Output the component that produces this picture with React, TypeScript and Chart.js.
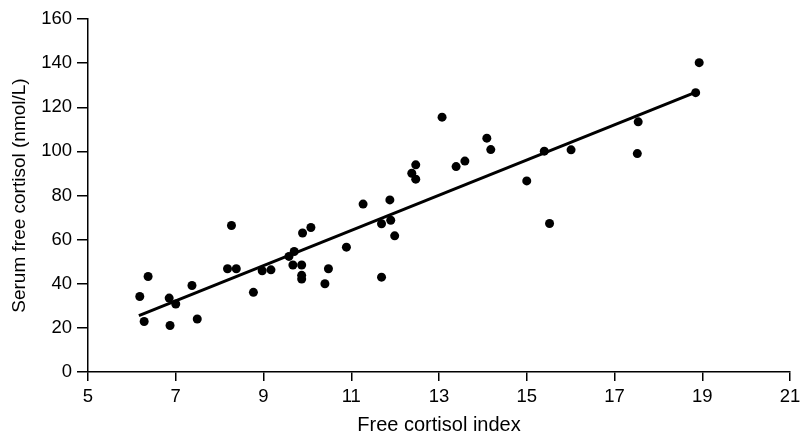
import React, { useEffect, useRef } from "react";
import { Chart, registerables } from "chart.js";

Chart.register(...registerables);

const xTicks = [5, 7, 9, 11, 13, 15, 17, 19, 21];
const yTicks = [0, 20, 40, 60, 80, 100, 120, 140, 160];

const pointX = [
  6.18, 6.37, 6.28, 6.85, 7.0, 6.87, 7.37, 7.49, 8.18, 8.38, 8.77, 8.97, 9.17, 9.67,
  9.87, 9.87, 9.87, 9.58, 10.4, 10.48, 8.27, 9.89, 10.08, 9.7, 10.89, 11.27, 11.69,
  11.9, 11.88, 11.99, 11.69, 12.47, 12.38, 12.47, 13.39, 13.07, 14.09, 14.18, 15.4,
  16.01, 15.0, 13.59, 18.93, 18.85, 17.54, 17.52, 15.52,
];
const pointY = [
  34.2, 43.3, 22.9, 33.5, 30.8, 21.1, 39.2, 24.0, 46.8, 46.8, 36.1, 45.9, 46.3, 48.5,
  48.5, 43.8, 42.1, 52.4, 40.0, 46.8, 66.4, 63.0, 65.5, 54.6, 56.6, 76.1, 67.2,
  68.8, 78.0, 61.7, 43.0, 93.9, 90.1, 87.4, 93.1, 115.5, 106.0, 100.8, 100.1,
  100.7, 86.6, 95.6, 140.2, 126.6, 113.4, 99.0, 67.3,
];

const fitX = [6.16, 18.8];
const fitY = [25.6, 126.4];

const FONT = "'Liberation Sans', Arial, Helvetica, sans-serif";

export default function App() {
  const ref = useRef<HTMLCanvasElement | null>(null);

  useEffect(() => {
    document.body.style.margin = "0";
    const ctx = ref.current!;
    const chart = new Chart(ctx, {
      type: "scatter",
      data: {
        datasets: [
          {
            type: "line",
            data: fitX.map((x, i) => ({ x, y: fitY[i] })),
            borderColor: "#000",
            borderWidth: 3,
            pointRadius: 0,
            fill: false,
          },
          {
            type: "scatter",
            data: pointX.map((x, i) => ({ x, y: pointY[i] })),
            backgroundColor: "#000",
            borderColor: "#000",
            pointRadius: 4.5,
            pointBorderWidth: 0,
          },
        ],
      },
      options: {
        animation: false,
        responsive: false,
        devicePixelRatio: 1,
        layout: { padding: { left: 0, right: 16, top: 19, bottom: 0 } },
        plugins: { legend: { display: false }, tooltip: { enabled: false } },
        scales: {
          x: {
            type: "linear",
            min: 5,
            max: 21,
            afterBuildTicks: (s: any) => {
              s.ticks = xTicks.map((v) => ({ value: v }));
            },
            afterFit: (s: any) => {
              s.height = 67;
            },
            grid: {
              display: true,
              drawOnChartArea: false,
              drawTicks: true,
              tickLength: 9,
              color: "#000",
              lineWidth: 1.5,
            },
            border: { display: true, color: "#000", width: 1.5 },
            ticks: {
              color: "#000",
              font: { family: FONT, size: 18.5 },
              padding: 5,
              maxRotation: 0,
            },
            title: {
              display: true,
              text: "Free cortisol index",
              color: "#000",
              font: { family: FONT, size: 20 },
              padding: { top: 0, bottom: 2 },
            },
          },
          y: {
            type: "linear",
            min: 0,
            max: 160,
            afterBuildTicks: (s: any) => {
              s.ticks = yTicks.map((v) => ({ value: v }));
            },
            afterFit: (s: any) => {
              s.width = 88;
            },
            grid: {
              display: true,
              drawOnChartArea: false,
              drawTicks: true,
              tickLength: 11,
              color: "#000",
              lineWidth: 1.5,
            },
            border: { display: true, color: "#000", width: 1.5 },
            ticks: {
              color: "#000",
              font: { family: FONT, size: 18.5 },
              padding: 5,
            },
            title: {
              display: true,
              text: "Serum free cortisol (nmol/L)",
              color: "#000",
              font: { family: FONT, size: 19 },
              padding: { top: 8, bottom: 0 },
            },
          },
        },
      },
    });
    return () => chart.destroy();
  }, []);

  return (
    <div style={{ width: 806, height: 439, position: "relative" }}>
      <canvas ref={ref} width={806} height={439} style={{ display: "block" }} />
    </div>
  );
}
